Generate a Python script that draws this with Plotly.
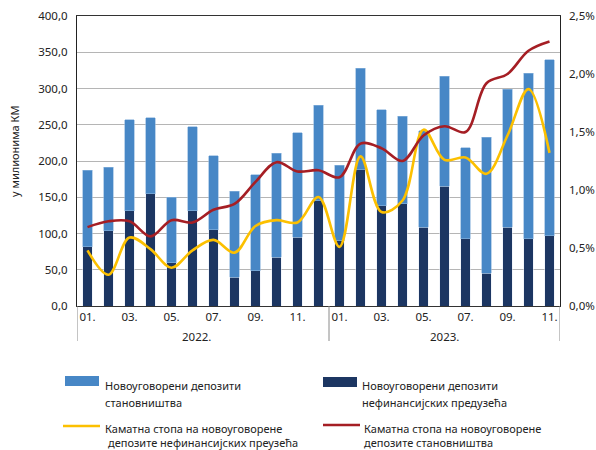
import plotly.graph_objects as go

months = ["01.", "02.", "03.", "04.", "05.", "06.", "07.", "08.", "09.", "10.", "11.", "12.",
          "01.", "02.", "03.", "04.", "05.", "06.", "07.", "08.", "09.", "10.", "11."]
years = ["2022.", "2023."]

# New deposits, millions KM
households = [105, 87.5, 125.5, 105, 90, 115.5, 102, 118, 132.5, 144, 144, 132,
              104, 140, 132.5, 121, 133.5, 152, 125, 188, 190.5, 228, 243]
nonfinancial = [82, 104, 131.5, 155, 60, 131.5, 105, 40, 48.5, 67, 95, 145,
                90, 188, 138.5, 141, 108.5, 165, 93, 45, 108.5, 93, 97]

# Interest rates, %
rate_nonfin = [0.48, 0.27, 0.59, 0.49, 0.33, 0.48, 0.57, 0.46, 0.69, 0.74, 0.72, 0.94,
               0.51, 1.29, 0.81, 0.91, 1.52, 1.26, 1.28, 1.14, 1.47, 1.87, 1.32]
rate_house = [0.68, 0.73, 0.73, 0.60, 0.74, 0.72, 0.83, 0.88, 1.07, 1.24, 1.16, 1.17,
              1.11, 1.40, 1.36, 1.25, 1.47, 1.55, 1.50, 1.92, 2.00, 2.20, 2.28]

legend_names = ["Новоуговорени депозити становништва",
                "Новоуговорени депозити нефинансијских предузећа",
                "Каматна стопа на новоуговорене депозите нефинансијских преузећа",
                "Каматна стопа на новоуговорене депозите становништва"]

C_LIGHT = "#4787C6"
C_DARK = "#1C3662"
C_YEL = "#FCC000"
C_RED = "#A51E24"
FONT = "Noto Sans"

x = list(range(len(months)))

fig = go.Figure()
fig.add_trace(go.Bar(x=x, y=nonfinancial, marker_color=C_DARK, name=legend_names[1]))
fig.add_trace(go.Bar(x=x, y=households, marker_color=C_LIGHT, name=legend_names[0],
                     marker_line=dict(color="#8DB5DD", width=0.6)))
fig.add_trace(go.Scatter(x=x, y=rate_nonfin, yaxis="y2", mode="lines",
                         line=dict(color=C_YEL, width=2.6, shape="spline", smoothing=1.0),
                         name=legend_names[2]))
fig.add_trace(go.Scatter(x=x, y=rate_house, yaxis="y2", mode="lines",
                         line=dict(color=C_RED, width=2.6, shape="spline", smoothing=1.0),
                         name=legend_names[3]))

W, H = 596, 450
L, R, T, B = 77, 36, 16, 144
pw, ph = W - L - R, H - T - B

def px(xp):
    return (xp - L) / pw

def py(yp):
    return (H - B - yp) / ph

shapes = []
annotations = []

# dividers below x axis
for xv in [-0.5, 11.5, 22.5]:
    shapes.append(dict(type="line", xref="x", yref="paper", x0=xv, x1=xv,
                       y0=0, y1=py(341), line=dict(color="#8a8a8a", width=1)))

# year labels
for xv, t in zip([5.2, 17.0], years):
    annotations.append(dict(x=xv, xref="x", y=py(336), yref="paper", text=t,
                            showarrow=False, font=dict(family=FONT, size=11.5, color="#222"),
                            xanchor="center", yanchor="middle"))

# y title
annotations.append(dict(x=px(14), y=py(152), xref="paper", yref="paper",
                        text="у милионима КМ", textangle=-90, showarrow=False,
                        font=dict(family=FONT, size=11, color="#222"),
                        xanchor="center", yanchor="middle"))

# manual legend
leg_font = dict(family=FONT, size=11, color="#222")
shapes.append(dict(type="rect", xref="paper", yref="paper", x0=px(65), x1=px(99),
                   y0=py(386), y1=py(376), fillcolor=C_LIGHT, line=dict(width=0)))
shapes.append(dict(type="rect", xref="paper", yref="paper", x0=px(323), x1=px(357),
                   y0=py(387), y1=py(377), fillcolor=C_DARK, line=dict(width=0)))
shapes.append(dict(type="line", xref="paper", yref="paper", x0=px(63), x1=px(100),
                   y0=py(426), y1=py(426), line=dict(color=C_YEL, width=2.6)))
shapes.append(dict(type="line", xref="paper", yref="paper", x0=px(323), x1=px(360),
                   y0=py(425), y1=py(425), line=dict(color=C_RED, width=2.6)))

leg_lines = [
    (103, 385, "Новоуговорени депозити"),
    (103, 402, "становништва"),
    (360, 385, "Новоуговорени депозити"),
    (360, 402, "нефинансијских предузећа"),
    (103, 428, "Каматна стопа на новоуговорене"),
    (106, 442, "депозите нефинансијских преузећа"),
    (362, 428, "Каматна стопа на новоуговорене"),
    (362, 442, "депозите становништва"),
]
for xp, yp, t in leg_lines:
    annotations.append(dict(x=px(xp), y=py(yp), xref="paper", yref="paper", text=t,
                            showarrow=False, font=leg_font, xanchor="left", yanchor="middle"))

fig.update_layout(
    width=W, height=H,
    margin=dict(l=L, r=R, t=T, b=B, autoexpand=False),
    paper_bgcolor="white", plot_bgcolor="white",
    barmode="stack", bargap=0.55,
    showlegend=False,
    separators=",.",
    font=dict(family=FONT, size=11.5, color="#222"),
    xaxis=dict(range=[-0.5, 22.5], tickvals=x[::2], ticktext=months[::2],
               showgrid=False, zeroline=False, showline=True, linecolor="#333",
               linewidth=1.2, mirror=True, ticks="",
               tickfont=dict(family=FONT, size=11.5, color="#222")),
    yaxis=dict(range=[0, 400], dtick=50, tickformat=".1f", showgrid=True,
               gridcolor="#b5b5b5", gridwidth=1.2, zeroline=False, showline=True,
               linecolor="#222", linewidth=1.2, mirror=True, ticks="",
               ticklabelstandoff=6,
               tickfont=dict(family=FONT, size=11.5, color="#222")),
    yaxis2=dict(range=[0, 2.5], dtick=0.5, tickformat=".1f", ticksuffix="%",
                overlaying="y", side="right", showgrid=False, zeroline=False,
                showline=False, ticks="", ticklabelstandoff=8,
                tickfont=dict(family=FONT, size=11.5, color="#222")),
    shapes=shapes,
    annotations=annotations,
)

fig.write_html("out.html", config={"displayModeBar": False},
               post_script="document.body.style.margin='0px';document.body.style.padding='0px';")
